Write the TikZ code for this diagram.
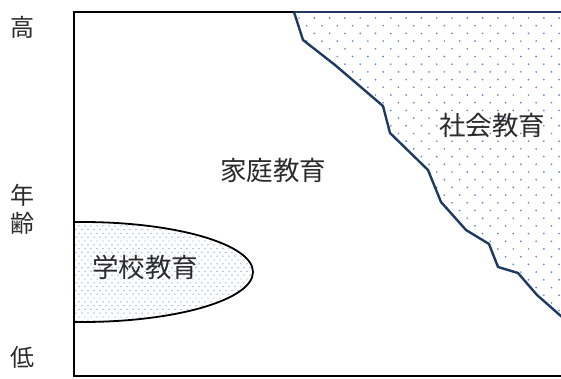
\documentclass[tikz,border=0pt]{standalone}
\usepackage{fontspec}
\newfontfamily\jp{Noto Sans CJK JP}
\definecolor{navy}{HTML}{1F3A60}
\definecolor{dotblue}{HTML}{5B8AD0}
\definecolor{txt}{HTML}{2B2B2B}
\tikzset{
  lbl/.style={font=\jp\fontsize{26.5}{26.5}\selectfont, text=txt, inner sep=0pt},
  side/.style={font=\jp\fontsize{24}{24}\selectfont, text=txt, inner sep=0pt},
  dot/.style={fill=dotblue},
  sdot/.style={fill=dotblue!80}
}
\begin{document}
\begin{tikzpicture}[x=1pt,y=-1pt]
\clip (0,0) rectangle (561,379);
\fill[white] (0,0) rectangle (561,379);
% social education region
\begin{scope}
\clip (294,12) -- (303,40) -- (335,65) -- (383,106) -- (390,133) -- (428,170) -- (441,202) -- (466,230) -- (489,244) -- (498,267) -- (518,273) -- (537,295) -- (562,317) -- (562,12) -- cycle;
\foreach \r in {0,...,40} {
  \pgfmathsetmacro{\yy}{18+7.7*\r}
  \pgfmathsetmacro{\off}{mod(\r,2)*7.65}
  \foreach \c in {0,...,18} {
    \fill[dot] ({299+\off+15.3*\c},\yy) circle (0.95);
  }
}
\end{scope}
% school education ellipse
\begin{scope}
\clip (74,0) rectangle (561,379);
\begin{scope}
\clip (82,272) ellipse (171 and 50);
\foreach \r in {0,...,27} {
  \pgfmathsetmacro{\yy}{222+3.8*\r}
  \pgfmathsetmacro{\off}{mod(\r,2)*3}
  \foreach \c in {0,...,30} {
    \fill[sdot] ({76+\off+6*\c},\yy) circle (0.72);
  }
}
\end{scope}
\draw[black, line width=1.8] (82,272) ellipse (171 and 50);
\end{scope}
% frame
\draw[black, line width=1.8] (570,12) -- (74,12) -- (74,376) -- (570,376);
% boundary line
\draw[navy, line width=2.4, line join=round] (294,12) -- (303,40) -- (335,65) -- (383,106) -- (390,133) -- (428,170) -- (441,202) -- (466,230) -- (489,244) -- (498,267) -- (518,273) -- (537,295) -- (562,317);
\draw[navy, line width=2.4] (294,12) -- (570,12);
% labels
\node[lbl] (home) at (273,170) {家庭教育};
\node[lbl] (social) at (492,125) {社会教育};
\node[lbl] (school) at (145,267) {学校教育};
\node[side] (high) at (22,27) {高};
\node[side] (age1) at (22,195) {年};
\node[side] (age2) at (22,223) {齢};
\node[side] (low) at (22,357) {低};
\end{tikzpicture}
\end{document}
